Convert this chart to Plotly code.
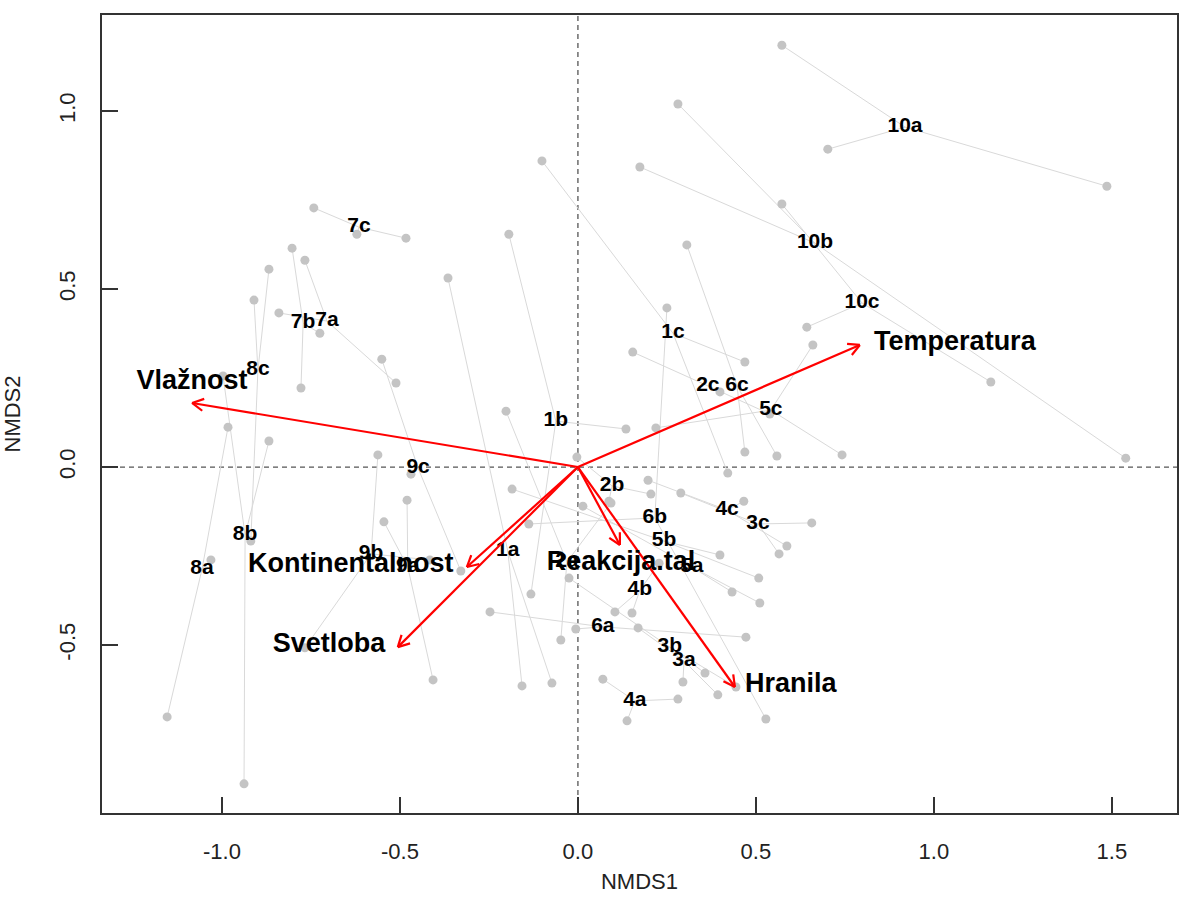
import math
import plotly.graph_objects as go

# ---- group (centroid) labels and their positions (NMDS1, NMDS2) ----
groups = ["1a", "1b", "1c", "2a", "2b", "2c", "3a", "3b", "3c", "4a", "4b", "4c",
          "5a", "5b", "5c", "6a", "6b", "6c", "7a", "7b", "7c", "8a", "8b", "8c",
          "9a", "9b", "9c", "10a", "10b", "10c"]
cent_x = [-0.197, -0.062, 0.267, -0.031, 0.096, 0.365, 0.298, 0.258, 0.506, 0.160, 0.174, 0.419,
          0.320, 0.242, 0.542, 0.070, 0.216, 0.447, -0.705, -0.772, -0.615, -1.056, -0.935, -0.899,
          -0.478, -0.581, -0.449, 0.919, 0.666, 0.798]
cent_y = [-0.236, 0.129, 0.376, -0.267, -0.053, 0.228, -0.545, -0.506, -0.160, -0.657, -0.346, -0.121,
          -0.281, -0.208, 0.160, -0.449, -0.143, 0.228, 0.410, 0.404, 0.674, -0.287, -0.191, 0.272,
          -0.281, -0.244, -0.003, 0.955, 0.629, 0.461]

# ---- site scores (NMDS1, NMDS2) and the group each belongs to ----
site_group = ["1a", "1a", "1a", "1b", "1b", "1b", "1c", "1c", "1c",
              "2a", "2a", "2a", "2b", "2b", "2b", "2c", "2c", "2c",
              "3a", "3a", "3a", "3b", "3b", "3b", "3c", "3c", "3c",
              "4a", "4a", "4a", "4b", "4b", "4b", "4c", "4c", "4c",
              "5a", "5a", "5a", "5b", "5b", "5b", "5c", "5c", "5c",
              "6a", "6a", "6a", "6b", "6b", "6b", "6c", "6c", "6c",
              "7a", "7a", "7a", "7b", "7b", "7b", "7c", "7c", "7c",
              "8a", "8a", "8a", "8b", "8b", "8b", "8c", "8c", "8c",
              "9a", "9a", "9a", "9b", "9b", "9b", "9c", "9c", "9c",
              "10a", "10a", "10a", "10b", "10b", "10b", "10c", "10c", "10c"]
site_x = [-0.365, -0.157, -0.073, -0.194, 0.135, -0.132, -0.101, 0.469, 0.421,
          -0.048, -0.202, 0.093, 0.205, -0.003, 0.087, 0.154, 0.399, 0.539,
          0.295, 0.393, 0.169, 0.357, 0.444, -0.025, 0.657, 0.565, 0.289,
          0.070, 0.281, 0.138, 0.104, 0.152, 0.228, 0.466, 0.197, 0.587,
          0.014, 0.433, 0.511, -0.185, 0.399, 0.508, 0.660, 0.742, 0.219,
          -0.247, 0.472, -0.006, 0.250, -0.138, 0.528, 0.306, 0.469, 0.559,
          -0.767, -0.840, -0.511, -0.803, -0.778, -0.725, -0.742, -0.483, -0.621,
          -1.031, -1.154, -0.983, -0.938, -0.997, -0.868, -0.868, -0.910, -0.919,
          -0.480, -0.407, -0.545, -0.562, -0.767, -0.416, -0.551, -0.329, -0.469,
          0.573, 1.486, 0.702, 0.281, 0.174, 1.539, 0.573, 1.160, 0.643]
site_y = [0.531, -0.615, -0.607, 0.654, 0.107, -0.357, 0.860, 0.295, -0.017,
          -0.486, 0.157, -0.101, -0.076, 0.028, -0.096, 0.323, 0.211, 0.149,
          -0.604, -0.640, -0.452, -0.579, -0.618, -0.312, -0.157, -0.244, -0.073,
          -0.596, -0.652, -0.713, -0.407, -0.410, -0.270, -0.096, -0.037, -0.222,
          -0.110, -0.351, -0.382, -0.062, -0.247, -0.312, 0.343, 0.034, 0.110,
          -0.407, -0.478, -0.455, 0.447, -0.160, -0.708, 0.624, 0.042, 0.031,
          0.581, 0.433, 0.236, 0.615, 0.222, 0.376, 0.728, 0.643, 0.654,
          -0.261, -0.702, 0.112, -0.890, 0.256, 0.073, 0.556, 0.469, -0.208,
          -0.093, -0.598, -0.154, 0.034, -0.508, -0.261, 0.303, -0.292, -0.020,
          1.185, 0.789, 0.893, 1.020, 0.843, 0.025, 0.739, 0.239, 0.393]

# ---- environmental fitted vectors ----
env_names = ["Vlažnost", "Temperatura", "Kontinentalnost", "Svetloba", "Reakcija.tal", "Hranila"]
env_x = [-1.084, 0.792, -0.312, -0.506, 0.118, 0.441]
env_y = [0.180, 0.343, -0.281, -0.506, -0.219, -0.618]
env_lab_x = [-1.084, 1.059, -0.638, -0.699, 0.121, 0.598]
env_lab_y = [0.239, 0.348, -0.275, -0.500, -0.270, -0.612]

FONT = "Liberation Sans, Arial, Helvetica, sans-serif"

fig = go.Figure()

# spider segments from centroid to each site
cx_of = dict(zip(groups, cent_x))
cy_of = dict(zip(groups, cent_y))
sx, sy = [], []
for g, x, y in zip(site_group, site_x, site_y):
    sx += [cx_of[g], x, None]
    sy += [cy_of[g], y, None]
fig.add_trace(go.Scatter(x=sx, y=sy, mode="lines",
                         line=dict(color="#d9d9d9", width=1), hoverinfo="skip"))

# site points
fig.add_trace(go.Scatter(x=site_x, y=site_y, mode="markers",
                         marker=dict(color="#c4c4c4", size=9, line=dict(width=0)),
                         hoverinfo="skip"))

# group labels
fig.add_trace(go.Scatter(x=cent_x, y=cent_y, mode="text", text=groups,
                         textposition="middle center",
                         textfont=dict(family=FONT, size=21, color="black", weight="bold"),
                         hoverinfo="skip"))

# env arrows (shaft + open V head, computed from vector direction)
head_len = 0.036
head_ang = math.radians(28)
ax_, ay_ = [], []
for x, y in zip(env_x, env_y):
    ax_ += [0, x, None]
    ay_ += [0, y, None]
    ang = math.atan2(y, x)
    for s in (1, -1):
        a = ang + math.pi + s * head_ang
        ax_ += [x, x + head_len * math.cos(a), None]
        ay_ += [y, y + head_len * math.sin(a), None]
fig.add_trace(go.Scatter(x=ax_, y=ay_, mode="lines",
                         line=dict(color="#ff0000", width=2.2), hoverinfo="skip"))

# env labels
fig.add_trace(go.Scatter(x=env_lab_x, y=env_lab_y, mode="text", text=env_names,
                         textposition="middle center",
                         textfont=dict(family=FONT, size=27, color="black", weight="bold"),
                         hoverinfo="skip"))

# dashed reference lines at 0
fig.add_shape(type="line", xref="x", yref="paper", x0=0, x1=0, y0=0, y1=1,
              line=dict(color="#555555", width=1.3, dash="5px,4px"), layer="below")
fig.add_shape(type="line", xref="paper", yref="y", x0=0, x1=1, y0=0, y1=0,
              line=dict(color="#555555", width=1.3, dash="5px,4px"), layer="below")

xt = [-1.0, -0.5, 0.0, 0.5, 1.0, 1.5]
yt = [-0.5, 0.0, 0.5, 1.0]

fig.update_layout(
    width=1179, height=902, autosize=False,
    margin=dict(l=102, r=2, t=15, b=89, autoexpand=False),
    paper_bgcolor="white", plot_bgcolor="white",
    showlegend=False,
    font=dict(family=FONT, color="#222222"),
    xaxis=dict(range=[-1.337, 1.683], tickvals=xt, ticktext=[f"{v:.1f}" for v in xt],
               ticks="inside", ticklen=16, tickwidth=1.5, tickcolor="#333333",
               showline=True, linecolor="#333333", linewidth=1.8, mirror=True,
               showgrid=False, zeroline=False, automargin=False,
               tickfont=dict(size=22, color="#222222"), ticklabelstandoff=18,
               title=dict(text="NMDS1", font=dict(size=22, color="#222222"), standoff=10)),
    yaxis=dict(range=[-0.972, 1.270], tickvals=yt, ticktext=[f"{v:.1f}" for v in yt],
               tickangle=-90,
               ticks="inside", ticklen=16, tickwidth=1.5, tickcolor="#333333",
               showline=True, linecolor="#333333", linewidth=1.8, mirror=True,
               showgrid=False, zeroline=False, automargin=False,
               tickfont=dict(size=22, color="#222222"), ticklabelstandoff=16,
               title=dict(text="NMDS2", font=dict(size=22, color="#222222"), standoff=30)),
)

# remove the page's default body margin so the figure sits at the window origin
fig.write_html("out.html",
               config={"displayModeBar": False},
               post_script="document.body.style.margin='0px';document.body.style.overflow='hidden';")
